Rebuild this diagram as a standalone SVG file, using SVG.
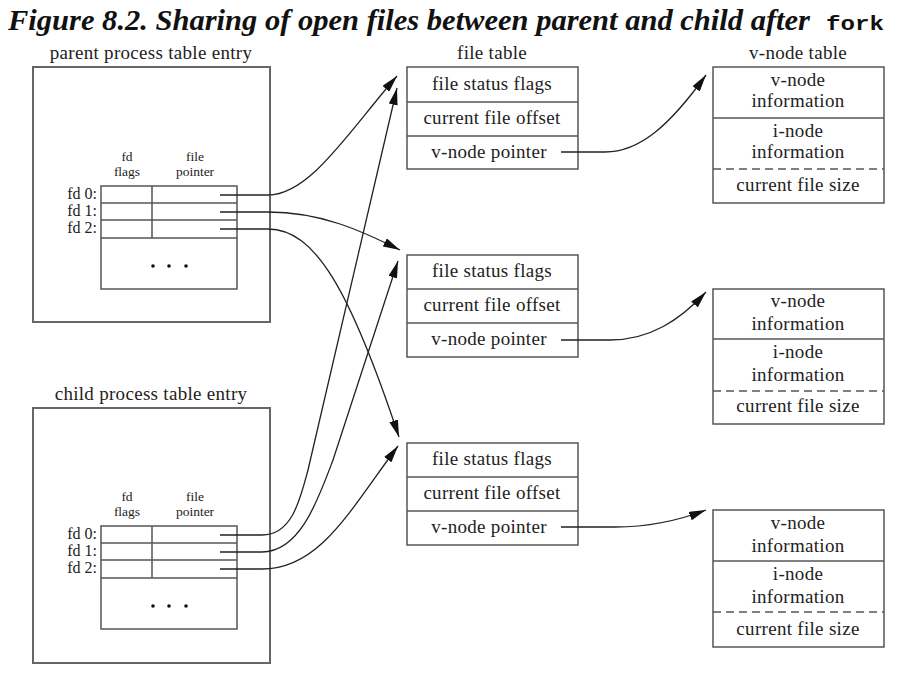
<svg xmlns="http://www.w3.org/2000/svg" width="904" height="679" viewBox="0 0 904 679">
<style>
.box{fill:none;stroke:#555;stroke-width:1.5}
.obox{fill:none;stroke:#666;stroke-width:2}
.dash{fill:none;stroke:#555;stroke-width:1.5;stroke-dasharray:8,5}
.t{font-family:"Liberation Serif","Times New Roman",serif;font-size:19px;fill:#222;text-anchor:middle;letter-spacing:0.3px}
.fd{font-family:"Liberation Serif","Times New Roman",serif;font-size:16px;fill:#222;text-anchor:end}
.hd{font-family:"Liberation Serif","Times New Roman",serif;font-size:13.5px;fill:#222;text-anchor:middle}
.c{fill:none;stroke:#222;stroke-width:1.3}
</style>
<defs>
<marker id="ah" viewBox="0 0 17 9" markerWidth="17" markerHeight="9" refX="17" refY="4.5" orient="auto" markerUnits="userSpaceOnUse">
<path d="M0,0 L17,4.5 L0,9 z" fill="#111"/>
</marker>
</defs>
<rect width="904" height="679" fill="#fff"/>
<g id="title">
<text x="8" y="30" font-family="Liberation Serif,'Times New Roman',serif" font-size="30" font-weight="bold" font-style="italic" fill="#111"><tspan textLength="802" lengthAdjust="spacingAndGlyphs">Figure 8.2. Sharing of open files between parent and child after</tspan><tspan x="826" font-family="Liberation Mono,'Courier New',monospace" font-size="21" font-style="normal" textLength="58" lengthAdjust="spacingAndGlyphs">fork</tspan></text>
</g>
<g id="parent">
<text class="t" x="151" y="59">parent process table entry</text>
<rect class="obox" x="33" y="67" width="237" height="255"/>
<text class="hd" x="127" y="161">fd</text>
<text class="hd" x="127" y="176">flags</text>
<text class="hd" x="195" y="161">file</text>
<text class="hd" x="195" y="176">pointer</text>
<rect class="box" x="101" y="186" width="136" height="103"/>
<line class="box" x1="101" y1="203" x2="237" y2="203"/>
<line class="box" x1="101" y1="220" x2="237" y2="220"/>
<line class="box" x1="101" y1="238" x2="237" y2="238"/>
<line class="box" x1="152" y1="186" x2="152" y2="238"/>
<text class="fd" x="97" y="199">fd 0:</text>
<text class="fd" x="97" y="216">fd 1:</text>
<text class="fd" x="97" y="233">fd 2:</text>
<circle cx="153" cy="266" r="1.8" fill="#111"/>
<circle cx="169" cy="266" r="1.8" fill="#111"/>
<circle cx="186" cy="266" r="1.8" fill="#111"/>
</g>
<g id="child">
<text class="t" x="151" y="400">child process table entry</text>
<rect class="obox" x="33" y="408" width="237" height="255"/>
<text class="hd" x="127" y="501">fd</text>
<text class="hd" x="127" y="516">flags</text>
<text class="hd" x="195" y="501">file</text>
<text class="hd" x="195" y="516">pointer</text>
<rect class="box" x="101" y="526" width="136" height="103"/>
<line class="box" x1="101" y1="543" x2="237" y2="543"/>
<line class="box" x1="101" y1="560" x2="237" y2="560"/>
<line class="box" x1="101" y1="578" x2="237" y2="578"/>
<line class="box" x1="152" y1="526" x2="152" y2="578"/>
<text class="fd" x="97" y="539">fd 0:</text>
<text class="fd" x="97" y="556">fd 1:</text>
<text class="fd" x="97" y="573">fd 2:</text>
<circle cx="153" cy="606" r="1.8" fill="#111"/>
<circle cx="169" cy="606" r="1.8" fill="#111"/>
<circle cx="186" cy="606" r="1.8" fill="#111"/>
</g>
<g id="filetable-label"><text class="t" x="492" y="59">file table</text></g>
<g id="ft1">
<rect class="box" x="407" y="67" width="171" height="102"/>
<line class="box" x1="407" y1="102" x2="578" y2="102"/>
<line class="box" x1="407" y1="136" x2="578" y2="136"/>
<text class="t" x="492" y="90">file status flags</text>
<text class="t" x="492" y="124">current file offset</text>
<text class="t" x="489" y="158">v-node pointer</text>
</g>
<g id="ft2">
<rect class="box" x="407" y="255" width="171" height="102"/>
<line class="box" x1="407" y1="289" x2="578" y2="289"/>
<line class="box" x1="407" y1="323" x2="578" y2="323"/>
<text class="t" x="492" y="277">file status flags</text>
<text class="t" x="492" y="311">current file offset</text>
<text class="t" x="489" y="345">v-node pointer</text>
</g>
<g id="ft3">
<rect class="box" x="407" y="443" width="171" height="102"/>
<line class="box" x1="407" y1="477" x2="578" y2="477"/>
<line class="box" x1="407" y1="511" x2="578" y2="511"/>
<text class="t" x="492" y="465">file status flags</text>
<text class="t" x="492" y="499">current file offset</text>
<text class="t" x="489" y="533">v-node pointer</text>
</g>
<g id="vnodetable-label"><text class="t" x="798" y="59">v-node table</text></g>
<g id="vn1">
<rect class="box" x="713" y="67" width="171" height="136"/>
<line class="box" x1="713" y1="118" x2="884" y2="118"/>
<line class="dash" x1="713" y1="169" x2="884" y2="169"/>
<text class="t" x="798" y="86">v-node</text>
<text class="t" x="798" y="107">information</text>
<text class="t" x="798" y="137">i-node</text>
<text class="t" x="798" y="158">information</text>
<text class="t" x="798" y="191">current file size</text>
</g>
<g id="vn2">
<rect class="box" x="713" y="289" width="171" height="135"/>
<line class="box" x1="713" y1="339" x2="884" y2="339"/>
<line class="dash" x1="713" y1="391" x2="884" y2="391"/>
<text class="t" x="798" y="307">v-node</text>
<text class="t" x="798" y="330">information</text>
<text class="t" x="798" y="358">i-node</text>
<text class="t" x="798" y="381">information</text>
<text class="t" x="798" y="412">current file size</text>
</g>
<g id="vn3">
<rect class="box" x="713" y="510" width="171" height="137"/>
<line class="box" x1="713" y1="561" x2="884" y2="561"/>
<line class="dash" x1="713" y1="612" x2="884" y2="612"/>
<text class="t" x="798" y="529">v-node</text>
<text class="t" x="798" y="552">information</text>
<text class="t" x="798" y="580">i-node</text>
<text class="t" x="798" y="603">information</text>
<text class="t" x="798" y="635">current file size</text>
</g>
<g id="connectors">
<path class="c" marker-end="url(#ah)" d="M220,195 H268 C310,195 350,130 397,76"/>
<path class="c" marker-end="url(#ah)" d="M220,212 H268 C320,212 360,230 400,250"/>
<path class="c" marker-end="url(#ah)" d="M220,229 H268 C315,229 350,290 399,437"/>
<path class="c" marker-end="url(#ah)" d="M220,535 H262 C292,535 300,500 308,470 L397,88"/>
<path class="c" marker-end="url(#ah)" d="M220,552 H262 C300,552 318,500 333,460 L398,261"/>
<path class="c" marker-end="url(#ah)" d="M220,569 H262 C320,569 350,510 398,446"/>
<path class="c" marker-end="url(#ah)" d="M561,152 H605 C640,152 670,125 706,75"/>
<path class="c" marker-end="url(#ah)" d="M561,340 H610 C650,340 680,320 706,292"/>
<path class="c" marker-end="url(#ah)" d="M561,527 H615 C650,527 680,520 706,510"/>
</g>
</svg>
